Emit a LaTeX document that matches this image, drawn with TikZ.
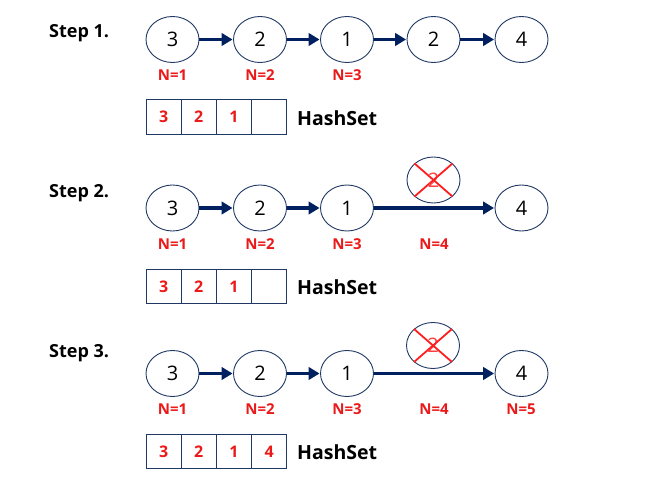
\documentclass[tikz,border=0pt]{standalone}
\usepackage{fontspec}
\setmainfont{Open Sans}
\usetikzlibrary{shapes.geometric,arrows.meta}
\definecolor{navy}{RGB}{0,32,96}
\definecolor{outl}{RGB}{31,56,100}
\definecolor{redtxt}{RGB}{235,25,25}
\definecolor{xred}{RGB}{255,30,30}
\begin{document}
\begin{tikzpicture}[x=1pt,y=-1pt,
  elnode/.style={ellipse, draw=outl, line width=0.9pt, minimum width=53pt, minimum height=46pt, inner sep=0pt, font=\fontsize{20}{20}\selectfont},
  delnode/.style={elnode, text=xred!85},
  link/.style={line width=3.6pt, draw=navy, -{Triangle[length=11pt,width=12.5pt]}, shorten >=0.5pt},
  xline/.style={line width=1.8pt, draw=xred},
  nlabel/.style={text=redtxt, font=\bfseries\fontsize{15}{15}\selectfont, inner sep=0pt},
  cell/.style={draw=outl, line width=1pt, minimum width=35.2pt, minimum height=34.5pt, inner sep=0pt, text=redtxt, font=\bfseries\fontsize{16}{16}\selectfont},
  hslabel/.style={anchor=west, inner sep=0pt, font=\bfseries\fontsize{19.5}{19.5}\selectfont},
  steplabel/.style={anchor=west, inner sep=0pt, font=\bfseries\fontsize{18}{18}\selectfont}
]
\useasboundingbox (0,0) rectangle (670,494);

% ---------- Step 1 ----------
\node[steplabel] (s1) at (49,33) {Step 1.};
\node[elnode] (a1) at (172.5,39.5) {3};
\node[elnode] (a2) at (260,39.5) {2};
\node[elnode] (a3) at (347,39.5) {1};
\node[elnode] (a4) at (433.5,39.5) {2};
\node[elnode] (a5) at (521.5,39.5) {4};
\draw[link] (a1) -- (a2);
\draw[link] (a2) -- (a3);
\draw[link] (a3) -- (a4);
\draw[link] (a4) -- (a5);
\node[nlabel] (na1) at (172.5,75) {N=1};
\node[nlabel] (na2) at (260,75) {N=2};
\node[nlabel] (na3) at (347,75) {N=3};
\node[cell] (ha1) at (163.6,117) {3};
\node[cell] (ha2) at (198.8,117) {2};
\node[cell] (ha3) at (234,117) {1};
\node[cell] (ha4) at (269.2,117) {};
\node[hslabel] (hsa) at (297,118) {HashSet};

% ---------- Step 2 ----------
\node[steplabel] (s2) at (49,193) {Step 2.};
\node[elnode] (b1) at (172.5,208) {3};
\node[elnode] (b2) at (260,208) {2};
\node[elnode] (b3) at (347,208) {1};
\node[delnode] (b4) at (433.5,180) {2};
\node[elnode] (b5) at (521.5,208) {4};
\draw[xline] (b4.north west) -- (b4.south east);
\draw[xline] (b4.north east) -- (b4.south west);
\draw[link] (b1) -- (b2);
\draw[link] (b2) -- (b3);
\draw[link] (b3) -- (b5);
\node[nlabel] (nb1) at (172.5,244) {N=1};
\node[nlabel] (nb2) at (260,244) {N=2};
\node[nlabel] (nb3) at (347,244) {N=3};
\node[nlabel] (nb4) at (434,244) {N=4};
\node[cell] (hb1) at (163.6,286.5) {3};
\node[cell] (hb2) at (198.8,286.5) {2};
\node[cell] (hb3) at (234,286.5) {1};
\node[cell] (hb4) at (269.2,286.5) {};
\node[hslabel] (hsb) at (297,287.5) {HashSet};

% ---------- Step 3 ----------
\node[steplabel] (s3) at (49,353) {Step 3.};
\node[elnode] (c1) at (172.5,373.5) {3};
\node[elnode] (c2) at (260,373.5) {2};
\node[elnode] (c3) at (347,373.5) {1};
\node[delnode] (c4) at (433,345.5) {2};
\node[elnode] (c5) at (521.5,373.5) {4};
\draw[xline] (c4.north west) -- (c4.south east);
\draw[xline] (c4.north east) -- (c4.south west);
\draw[link] (c1) -- (c2);
\draw[link] (c2) -- (c3);
\draw[link] (c3) -- (c5);
\node[nlabel] (nc1) at (172.5,409.5) {N=1};
\node[nlabel] (nc2) at (260,409.5) {N=2};
\node[nlabel] (nc3) at (347,409.5) {N=3};
\node[nlabel] (nc4) at (434,409.5) {N=4};
\node[nlabel] (nc5) at (521,409.5) {N=5};
\node[cell] (hc1) at (163.6,451.5) {3};
\node[cell] (hc2) at (198.8,451.5) {2};
\node[cell] (hc3) at (234,451.5) {1};
\node[cell] (hc4) at (269.2,451.5) {4};
\node[hslabel] (hsc) at (297,452) {HashSet};
\end{tikzpicture}
\end{document}
